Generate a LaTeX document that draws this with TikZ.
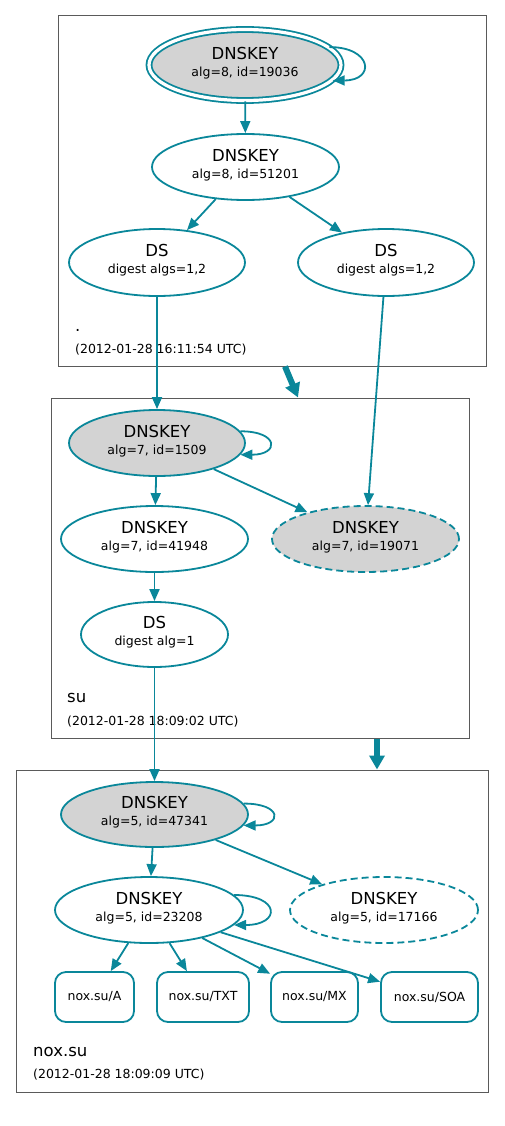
\documentclass[tikz,border=0pt]{standalone}
\usepackage{fontspec}
\setmainfont{DejaVu Sans}
\usetikzlibrary{shapes.geometric,arrows.meta}
\definecolor{dnsteal}{HTML}{0A879A}
\definecolor{keygray}{HTML}{D3D3D3}
\definecolor{zonegray}{HTML}{5A5A5A}
\newcommand\bigname[1]{{\fontsize{16.5}{17}\selectfont #1}}
\begin{document}
\begin{tikzpicture}[x=1pt, y=-1pt,
    every node/.style={font=\fontsize{12.5}{17}\selectfont, inner sep=0pt},
    zone/.style={draw=zonegray, line width=1pt, rectangle},
    key/.style={ellipse, draw=dnsteal, line width=1.8pt, align=center, text depth=7pt},
    keyfill/.style={key, fill=keygray},
    keydash/.style={key, dash pattern=on 7pt off 4pt},
    rrset/.style={draw=dnsteal, line width=1.8pt, rounded corners=11pt, minimum height=50pt},
    arr/.style={draw=dnsteal, line width=1.8pt, -{Triangle[length=12pt, width=10pt]}},
    bigarr/.style={draw=dnsteal, line width=6pt, -{Triangle[length=14pt, width=15pt]}}]
    \useasboundingbox (0, 0) rectangle (504, 1126);
    \node[zone, minimum width=428pt, minimum height=350pt] (b1) at (272, 191) {};
    \node[zone, minimum width=418pt, minimum height=340pt] (b2) at (260, 568) {};
    \node[zone, minimum width=472pt, minimum height=322pt] (b3) at (252, 931) {};

    \node[keyfill, minimum width=192pt, minimum height=71pt, double=white, double distance=3.2pt] (k1) at (245, 65) {\bigname{DNSKEY}\\alg=8, id=19036};
    \node[key, minimum width=187pt, minimum height=66pt] (k2) at (245.5, 167) {\bigname{DNSKEY}\\alg=8, id=51201};
    \node[key, minimum width=176pt, minimum height=67pt] (dsl) at (157, 262.5) {\bigname{DS}\\digest algs=1,2};
    \node[key, minimum width=176pt, minimum height=67pt] (dsr) at (386, 262.5) {\bigname{DS}\\digest algs=1,2};
    \node[anchor=base west] (rootname) at (75, 331) {\bigname{.}};
    \node[anchor=base west] (roottime) at (75, 353) {(2012-01-28 16:11:54 UTC)};

    \node[keyfill, minimum width=176pt, minimum height=66pt] (s1) at (157, 443) {\bigname{DNSKEY}\\alg=7, id=1509};
    \node[key, minimum width=187pt, minimum height=66pt] (s2) at (154.5, 539) {\bigname{DNSKEY}\\alg=7, id=41948};
    \node[keydash, fill=keygray, minimum width=187pt, minimum height=66pt] (s3) at (365.5, 539) {\bigname{DNSKEY}\\alg=7, id=19071};
    \node[key, minimum width=147pt, minimum height=65pt] (sds) at (154.5, 634.5) {\bigname{DS}\\digest alg=1};
    \node[anchor=base west] (suname) at (67, 702) {\bigname{su}};
    \node[anchor=base west] (sutime) at (67, 725) {(2012-01-28 18:09:02 UTC)};

    \node[keyfill, minimum width=187pt, minimum height=65pt] (n1) at (154.5, 814.5) {\bigname{DNSKEY}\\alg=5, id=47341};
    \node[key, minimum width=188pt, minimum height=66pt] (n2) at (149, 910) {\bigname{DNSKEY}\\alg=5, id=23208};
    \node[keydash, minimum width=188pt, minimum height=66pt] (n3) at (384, 910) {\bigname{DNSKEY}\\alg=5, id=17166};
    \node[rrset, minimum width=79pt] (ra) at (94.5, 997) {nox.su/A};
    \node[rrset, minimum width=92pt] (rtxt) at (203, 997) {nox.su/TXT};
    \node[rrset, minimum width=87pt] (rmx) at (314.5, 997) {nox.su/MX};
    \node[rrset, minimum width=97pt] (rsoa) at (429.5, 997) {nox.su/SOA};
    \node[anchor=base west] (noxname) at (33, 1056) {\bigname{nox.su}};
    \node[anchor=base west] (noxtime) at (33, 1078) {(2012-01-28 18:09:09 UTC)};

    \draw[arr] (k1.12) .. controls +(43, 0) and +(43, 0) .. (k1.-10);
    \draw[arr] (k1) -- (k2);
    \draw[arr] (k2) -- (dsl);
    \draw[arr] (k2) -- (dsr);
    \draw[arr] (dsl) -- (s1);
    \draw[arr] (dsr) -- (s3);
    \draw[bigarr] ([xshift=13pt]b1.south) -- ([xshift=38pt]b2.north);

    \draw[arr] (s1.8) .. controls +(39, 0) and +(39, 0) .. (s1.-8);
    \draw[arr] (s1) -- (s2);
    \draw[arr] (s1) -- (s3);
    \draw[arr] (s2) -- (sds);
    \draw[arr] (sds) -- (n1);
    \draw[bigarr] ([xshift=117pt]b2.south) -- ([xshift=125pt]b3.north);

    \draw[arr] (n1.7) .. controls +(39, 0) and +(39, 0) .. (n1.-7);
    \draw[arr] (n1) -- (n2);
    \draw[arr] (n1) -- (n3);
    \draw[arr] (n2.10) .. controls +(47, 0) and +(47, 0) .. (n2.-10);
    \draw[arr] (n2) -- (ra);
    \draw[arr] (n2) -- (rtxt);
    \draw[arr] (n2) -- (rmx);
    \draw[arr] (n2) -- (rsoa);
\end{tikzpicture}
\end{document}
